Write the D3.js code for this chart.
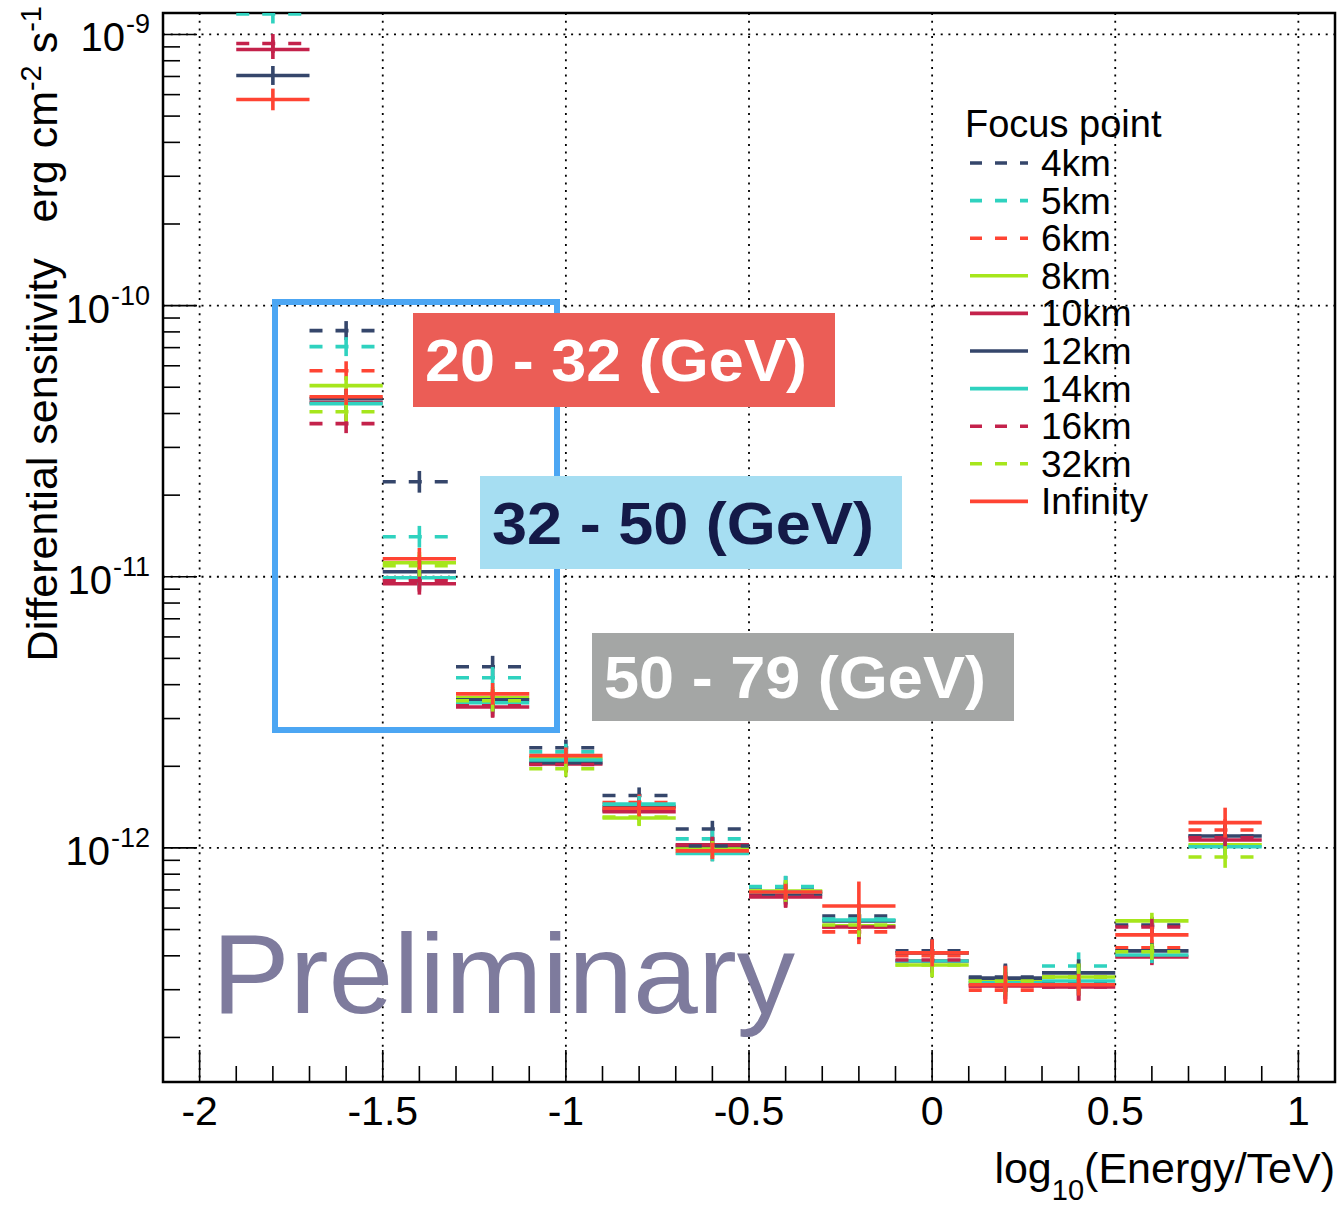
<!DOCTYPE html>
<html>
<head>
<meta charset="utf-8">
<script src="https://cdn.jsdelivr.net/npm/d3@7"></script>
<style>
body { margin: 0; background: #fff; }
text { font-family: "Liberation Sans", Arial, sans-serif; white-space: pre; }
</style>
</head>
<body>
<script>
const width = 1342;
const height = 1206;
const marginTop = 13;
const marginRight = 7;
const marginBottom = 124;
const marginLeft = 163;

// energy bins, log10(E/TeV)
const binCenters = [-1.8, -1.6, -1.4, -1.2, -1.0, -0.8, -0.6, -0.4, -0.2, 0.0, 0.2, 0.4, 0.6, 0.8];
const binWidth = 0.2;

const xTicks = [-2, -1.5, -1, -0.5, 0, 0.5, 1];
const xTickLabels = ["-2", "-1.5", "-1", "-0.5", "0", "0.5", "1"];
const yDecades = [-12, -11, -10, -9];

const seriesNames = ["4km", "5km", "6km", "8km", "10km", "12km", "14km", "16km", "32km", "Infinity"];
const seriesColors = ["#35466b", "#2fd2bf", "#ff4433", "#a6e61c", "#c4224b", "#35466b", "#2fd2bf", "#c4224b", "#a6e61c", "#ff4433"];
const seriesDashed = [true, true, true, false, false, false, false, true, true, false];

// differential sensitivity (erg cm^-2 s^-1), one value per bin
const sens4km     = [null,    8.09e-11, 2.24e-11, 4.66e-12, 2.34e-12, 1.56e-12, 1.175e-12, 7.18e-13, 5.61e-13, 4.17e-13, 3.34e-13, 3.20e-13, 5.20e-13, 1.107e-12];
const sens5km     = [1.19e-9, 7.06e-11, 1.405e-11, 4.24e-12, 2.26e-12, 1.37e-12, 1.08e-12, 7.20e-13, 5.47e-13, 3.83e-13, 3.18e-13, 3.67e-13, 4.00e-13, 1.017e-12];
const sens6km     = [null,    5.75e-11, 0.983e-11, 3.46e-12, 2.15e-12, 1.47e-12, 0.958e-12, 6.82e-13, 4.90e-13, 4.00e-13, 2.99e-13, 3.34e-13, 4.28e-13, 1.165e-12];
const sens8km     = [null,    5.07e-11, 1.126e-11, 3.58e-12, 2.13e-12, 1.29e-12, 0.992e-12, 6.94e-13, 5.16e-13, 3.70e-13, 3.23e-13, 3.34e-13, 5.38e-13, 1.026e-12];
const sens10km    = [8.8e-10, 4.39e-11, 0.942e-11, 3.31e-12, 2.04e-12, 1.36e-12, 1.026e-12, 6.59e-13, 5.11e-13, 3.83e-13, 3.10e-13, 3.07e-13, 3.96e-13, 1.07e-12];
const sens12km    = [7.06e-10, 4.54e-11, 1.043e-11, 3.52e-12, 2.06e-12, 1.42e-12, 1.017e-12, 6.77e-13, 5.38e-13, 4.10e-13, 3.31e-13, 3.46e-13, 4.17e-13, 1.107e-12];
const sens14km    = [null,    4.35e-11, 0.992e-11, 3.43e-12, 2.11e-12, 1.45e-12, 0.955e-12, 6.88e-13, 5.42e-13, 3.83e-13, 3.18e-13, 3.23e-13, 4.03e-13, 1.01e-12];
const sens16km    = [9.26e-10, 3.67e-11, 0.967e-11, 3.34e-12, 2.03e-12, 1.38e-12, 1.025e-12, 6.65e-13, 5.11e-13, 3.86e-13, 3.10e-13, 3.07e-13, 5.11e-13, 1.09e-12];
const sens32km    = [null,    4.06e-11, 1.098e-11, 3.49e-12, 1.96e-12, 1.30e-12, 0.99e-12, 6.94e-13, 5.20e-13, 3.70e-13, 3.23e-13, 3.34e-13, 4.14e-13, 0.926e-12];
const sensInfinity = [5.76e-10, 4.61e-11, 1.165e-11, 3.70e-12, 2.19e-12, 1.40e-12, 0.975e-12, 6.88e-13, 6.11e-13, 4.10e-13, 3.13e-13, 3.13e-13, 4.78e-13, 1.24e-12];

// half-length of the error bars in decades
const errCommon   = [0.035, 0.035, 0.04, 0.04, 0.03, 0.03, 0.03, 0.04, 0.045, 0.045, 0.05, 0.05, 0.03, 0.04];
const errInfinity = [0.04,  0.03,  0.04, 0.04, 0.03, 0.03, 0.03, 0.03, 0.09,  0.05,  0.07, 0.04, 0.03, 0.055];

const seriesValues = [sens4km, sens5km, sens6km, sens8km, sens10km, sens12km, sens14km, sens16km, sens32km, sensInfinity];
const seriesErrors = seriesNames.map(n => n === "Infinity" ? errInfinity : errCommon);

const svg = d3.select("body").append("svg")
    .attr("width", width)
    .attr("height", height);

const x = d3.scaleLinear()
    .domain([-2.1, 1.1])
    .range([marginLeft, width - marginRight]);

const y = d3.scaleLog()
    .domain([1.37e-13, 1.2e-9])
    .range([height - marginBottom, marginTop]);

const x0 = x.range()[0], x1 = x.range()[1];
const y0 = y.range()[0], y1 = y.range()[1];

svg.append("clipPath").attr("id", "frame")
  .append("rect")
    .attr("x", x0).attr("y", y1)
    .attr("width", x1 - x0).attr("height", y0 - y1);

//grid
const grid = svg.append("g")
    .attr("stroke", "#000")
    .attr("stroke-width", 1.8)
    .attr("stroke-dasharray", "2 5.7");

grid.selectAll(".gx")
  .data(xTicks)
  .join("line")
    .attr("x1", d => x(d)).attr("x2", d => x(d))
    .attr("y1", y1).attr("y2", y0);

grid.selectAll(".gy")
  .data(yDecades)
  .join("line")
    .attr("x1", x0).attr("x2", x1)
    .attr("y1", d => y(Math.pow(10, d))).attr("y2", d => y(Math.pow(10, d)));

//ticks
const ticks = svg.append("g").attr("stroke", "#000").attr("stroke-width", 1.6);

const xMinor = d3.range(-21, 12).map(i => i / 10);
ticks.selectAll(".tx")
  .data(xMinor)
  .join("line")
    .attr("x1", d => x(d)).attr("x2", d => x(d))
    .attr("y1", y0)
    .attr("y2", d => Math.abs(d * 2 - Math.round(d * 2)) < 1e-6 ? y0 - 32 : y0 - 16);

const yMinor = [];
for (let k = -13; k <= -9; k++) {
  for (let m = 1; m <= 9; m++) {
    const v = m * Math.pow(10, k);
    if (v >= y.domain()[0] && v <= y.domain()[1]) yMinor.push({v, major: m === 1});
  }
}
ticks.selectAll(".ty")
  .data(yMinor)
  .join("line")
    .attr("x1", x0)
    .attr("x2", d => d.major ? x0 + 34 : x0 + 17)
    .attr("y1", d => y(d.v)).attr("y2", d => y(d.v));

//frame
svg.append("rect")
    .attr("x", x0).attr("y", y1)
    .attr("width", x1 - x0).attr("height", y0 - y1)
    .attr("fill", "none")
    .attr("stroke", "#000")
    .attr("stroke-width", 2.5);

//tick labels
svg.selectAll(".xl")
  .data(xTicks)
  .join("text")
    .attr("x", d => x(d))
    .attr("y", y0 + 43)
    .attr("text-anchor", "middle")
    .attr("font-size", 41)
    .text((d, i) => xTickLabels[i]);

const yl = svg.selectAll(".yl")
  .data(yDecades)
  .join("text")
    .attr("x", 150)
    .attr("y", d => y(Math.pow(10, d)) + 17)
    .attr("text-anchor", "end")
    .attr("font-size", 40);
yl.append("tspan").text("10");
yl.append("tspan").attr("dx", 1).attr("dy", -18).attr("font-size", 27).text(d => d);

//axis titles
const xt = svg.append("text")
    .attr("x", x1)
    .attr("y", 1183)
    .attr("text-anchor", "end")
    .attr("font-size", 43);
xt.append("tspan").text("log");
xt.append("tspan").attr("dy", 17).attr("font-size", 29).text("10");
xt.append("tspan").attr("dy", -17).text("(Energy/TeV)");

const yt = svg.append("text")
    .attr("transform", "translate(57,6) rotate(-90)")
    .attr("text-anchor", "end")
    .attr("font-size", 43);
yt.append("tspan").text("Differential sensitivity   erg cm");
yt.append("tspan").attr("dy", -16).attr("font-size", 29).text("-2");
yt.append("tspan").attr("dy", 16).text(" s");
yt.append("tspan").attr("dy", -16).attr("font-size", 29).text("-1");

//"Preliminary" watermark
svg.append("text")
    .attr("x", 212)
    .attr("y", 1013)
    .attr("font-family", "Lato, 'Noto Sans', sans-serif")
    .attr("font-size", 114)
    .attr("fill", "#7e7b9d")
    .attr("textLength", 583)
    .attr("lengthAdjust", "spacingAndGlyphs")
    .text("Preliminary");

//data
const plot = svg.append("g").attr("clip-path", "url(#frame)");

seriesNames.forEach((name, i) => {
  const pts = binCenters
    .map((c, j) => ({c, v: seriesValues[i][j], e: seriesErrors[i][j]}))
    .filter(d => d.v != null);
  const g = plot.append("g")
      .attr("stroke", seriesColors[i])
      .attr("stroke-width", 3.6);
  g.selectAll(".bin")
    .data(pts)
    .join("line")
      .attr("x1", d => x(d.c - binWidth / 2))
      .attr("x2", d => x(d.c + binWidth / 2))
      .attr("y1", d => y(d.v)).attr("y2", d => y(d.v))
      .attr("stroke-dasharray", seriesDashed[i] ? "13 13" : null);
  g.selectAll(".err")
    .data(pts)
    .join("line")
      .attr("x1", d => x(d.c)).attr("x2", d => x(d.c))
      .attr("y1", d => y(d.v * Math.pow(10, -d.e)))
      .attr("y2", d => y(d.v * Math.pow(10, d.e)));
});

//energy range annotations
const boxLabels = ["20 - 32 (GeV)", "32 - 50 (GeV)", "50 - 79 (GeV)"];
const boxFills = ["#eb5d56", "#a6def2", "#a4a6a5"];
const boxText = ["#ffffff", "#141a48", "#ffffff"];
const boxPos = [[413, 313, 422, 94], [480, 476, 422, 93], [592, 633, 422, 88]];

svg.append("rect")
    .attr("x", 275).attr("y", 302)
    .attr("width", 282).attr("height", 428)
    .attr("fill", "none")
    .attr("stroke", "#4ca6f3")
    .attr("stroke-width", 6);

boxLabels.forEach((lab, i) => {
  const [bx, by, bw, bh] = boxPos[i];
  svg.append("rect")
      .attr("x", bx).attr("y", by)
      .attr("width", bw).attr("height", bh)
      .attr("fill", boxFills[i]);
  svg.append("text")
      .attr("x", bx + 12)
      .attr("y", by + bh / 2 + 21)
      .attr("font-family", "Lato, 'Noto Sans', sans-serif")
      .attr("font-weight", "bold")
      .attr("font-size", 59)
      .attr("fill", boxText[i])
      .attr("textLength", 382)
      .attr("lengthAdjust", "spacingAndGlyphs")
      .text(lab);
});

//legend
const legend = svg.append("g");
legend.append("text")
    .attr("x", 965).attr("y", 137)
    .attr("font-size", 38)
    .text("Focus point");

const rows = legend.selectAll(".row")
  .data(seriesNames)
  .join("g")
    .attr("transform", (d, i) => `translate(0,${163 + i * 37.6})`);

rows.append("line")
    .attr("x1", 970).attr("x2", 1028)
    .attr("stroke", (d, i) => seriesColors[i])
    .attr("stroke-width", 3.6)
    .attr("stroke-dasharray", (d, i) => seriesDashed[i] ? "12 13" : null);

rows.append("text")
    .attr("x", 1041).attr("y", 13)
    .attr("font-size", 37)
    .text(d => d);
</script>
</body>
</html>
